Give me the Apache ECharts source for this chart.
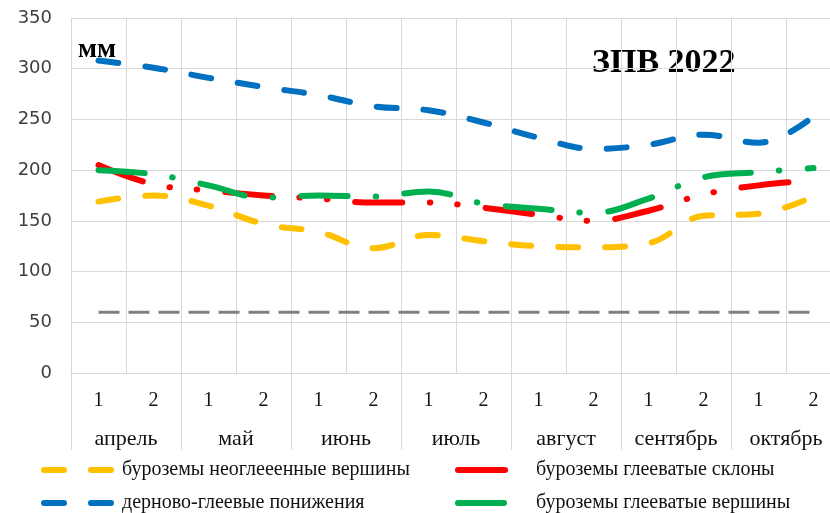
<!DOCTYPE html>
<html><head><meta charset="utf-8">
<script src="https://cdn.jsdelivr.net/npm/echarts@6/dist/echarts.min.js"></script>
<style>html,body{margin:0;padding:0;background:#fff}#c{width:830px;height:513px}</style>
</head><body><div id="c"></div>
<script>
// Categories
const halves = ['1','2','1','2','1','2','1','2','1','2','1','2','1','2'];
const months = ['апрель','май','июнь','июль','август','сентябрь','октябрь'];
// Y axis
const yMin = 0, yMax = 350, yStep = 50;
// Series names
const nameYellow = 'буроземы неоглееенные вершины';
const nameBlue = 'дерново-глеевые понижения';
const nameRed = 'буроземы глееватые склоны';
const nameGreen = 'буроземы глееватые вершины';
// Series values (mm)
const yellowVals = [169, 175, 165, 147, 139, 123, 136, 130, 125, 124, 128, 155, 157, 174];
const blueVals   = [308, 301, 291, 282, 274, 263, 259, 247, 232, 221, 225, 235, 227, 253];
const redVals    = [205, 186, 180, 175, 172, 168, 168, 163, 156, 150, 160, 176, 185, 190];
const greenVals  = [200, 196, 185, 173, 175, 174, 179, 167, 162, 158, 172, 193, 198, 202];
const levelVals  = [60, 60, 60, 60, 60, 60, 60, 60, 60, 60, 60, 60, 60, 60];
// Texts
const unitText = 'мм';
const titleText = 'ЗПВ 2022';

const serif = '"Liberation Serif", "Times New Roman", serif';
const chart = echarts.init(document.getElementById('c'), null, {renderer: 'canvas'});

function lineSeries(name, data, color, dash, z) {
  return {
    name, type: 'line', data, smooth: 0.4, symbol: 'none', z,
    lineStyle: {color, width: 6, type: dash, cap: 'round', join: 'round'},
    itemStyle: {color},
    emphasis: {disabled: true}
  };
}

const legendCommon = {
  orient: 'vertical', top: 460, padding: 0,
  itemHeight: 20, itemGap: 13, selectedMode: false,
  lineStyle: {width: 6, cap: 'round'},
  itemStyle: {opacity: 0, borderWidth: 0}
};

chart.setOption({
  animation: false,
  grid: {left: 71, width: 770, top: 18, height: 355, containLabel: false, outerBoundsMode: 'none'},
  xAxis: [
    {
      type: 'category', data: halves, boundaryGap: true, position: 'bottom',
      axisLine: {show: true, lineStyle: {color: '#d9d9d9', width: 1}},
      axisTick: {show: false},
      splitLine: {show: true, interval: 0, lineStyle: {color: '#d9d9d9', width: 1}},
      axisLabel: {interval: 0, margin: 18, color: '#111', fontFamily: serif, fontSize: 20}
    },
    {
      type: 'category', data: months, boundaryGap: true, position: 'bottom', offset: 0,
      axisLine: {show: false},
      axisTick: {show: true, interval: 0, length: 77, lineStyle: {color: '#d9d9d9', width: 1}},
      splitLine: {show: false},
      axisLabel: {interval: 0, margin: 55, color: '#111', fontFamily: serif, fontSize: 22}
    }
  ],
  yAxis: {
    type: 'value', min: yMin, max: yMax, interval: yStep,
    axisLine: {show: true, lineStyle: {color: '#d9d9d9'}},
    axisTick: {show: false},
    splitLine: {show: true, lineStyle: {color: '#d9d9d9', width: 1}},
    axisLabel: {margin: 19, color: '#404040', fontFamily: '"DejaVu Sans", sans-serif', fontSize: 18}
  },
  legend: [
    Object.assign({}, legendCommon, {
      data: [nameYellow, nameBlue], left: 41, itemWidth: 68,
      textStyle: {fontFamily: serif, fontSize: 20, color: '#111', padding: [0, 0, 0, 5], lineHeight: 20}
    }),
    Object.assign({}, legendCommon, {
      data: [nameRed, nameGreen], left: 455, itemWidth: 50,
      textStyle: {fontFamily: serif, fontSize: 20, color: '#111', padding: [0, 0, 0, 23], lineHeight: 20}
    })
  ],
  graphic: [
    {type: 'text', left: 78, top: 36, silent: true,
     style: {text: unitText, font: 'bold 28px ' + serif, fill: '#000'}},
    {type: 'text', left: 592, top: 46, silent: true,
     style: {text: titleText, font: 'bold 34px ' + serif, fill: '#000'}}
  ],
  series: [
    {
      name: 'level', type: 'line', data: levelVals, symbol: 'none', z: 1,
      lineStyle: {color: '#808080', width: 3, type: [21, 9], cap: 'butt'},
      emphasis: {disabled: true}
    },
    lineSeries(nameYellow, yellowVals, '#FFC000', [20, 27], 2),
    lineSeries(nameBlue, blueVals, '#0070C0', [20, 27], 3),
    lineSeries(nameRed, redVals, '#FF0000', [47, 27.5, 0.5, 27, 0.5, 28], 4),
    lineSeries(nameGreen, greenVals, '#00B050', [46, 28, 0.5, 28.5], 5)
  ]
});
</script></body></html>
